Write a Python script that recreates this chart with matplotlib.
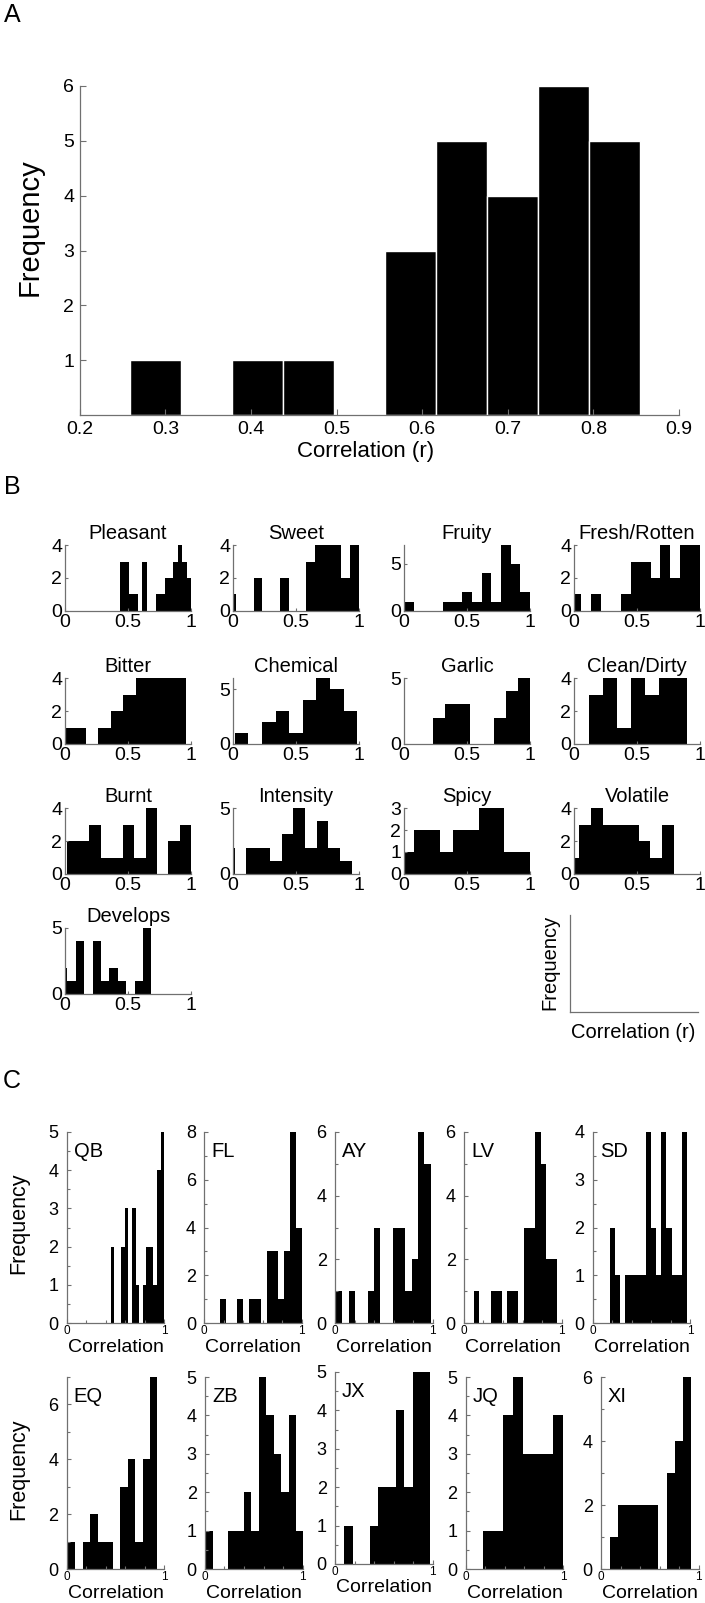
import numpy as np
import matplotlib
matplotlib.use("Agg")
import matplotlib.pyplot as plt
from matplotlib.ticker import FixedLocator, MultipleLocator

plt.rcParams['font.family'] = ['Liberation Sans', 'DejaVu Sans']

W, H = 705, 1603
AXC = '#707070'

# ---- panel A: all attributes pooled
a_lo, a_hi = 0.259, 0.854
a_counts = [1, 0, 1, 1, 0, 3, 5, 4, 6, 5]
a_xticks = [0.2, 0.3, 0.4, 0.5, 0.6, 0.7, 0.8, 0.9]
a_yticks = [1, 2, 3, 4, 5, 6]

# ---- panel B: per attribute (bin range lo..hi, counts per bin)
b_names = ['Pleasant', 'Sweet', 'Fruity', 'Fresh/Rotten',
           'Bitter', 'Chemical', 'Garlic', 'Clean/Dirty',
           'Burnt', 'Intensity', 'Spicy', 'Volatile',
           'Develops']
b_lo = [0.44, -0.045, 0.0, -0.02,
        -0.036, 0.015, 0.232, 0.117,
        0.013, -0.080, -0.02, -0.055,
        -0.049]
b_hi = [1.0, 1.0, 1.0, 1.0,
        0.964, 0.985, 1.0, 0.894,
        1.0, 0.943, 1.0, 0.796,
        0.686]
b_counts = [
    [3, 3, 1, 1, 0, 3, 0, 0, 1, 1, 2, 2, 3, 4, 3, 2],
    [1, 0, 0, 2, 0, 0, 2, 0, 0, 3, 4, 4, 4, 2, 4],
    [1, 0, 0, 0, 1, 1, 2, 1, 4, 1, 7, 5, 2],
    [1, 0, 1, 0, 0, 1, 3, 3, 2, 4, 2, 4, 4],
    [1, 1, 0, 1, 2, 3, 4, 4, 4, 4],
    [1, 0, 2, 3, 1, 4, 6, 5, 3],
    [2, 3, 3, 0, 0, 2, 4, 5],
    [3, 4, 1, 4, 3, 4, 4],
    [2, 2, 3, 1, 1, 3, 1, 4, 0, 2, 3],
    [2, 0, 2, 2, 1, 3, 5, 2, 4, 2, 1],
    [1, 2, 2, 1, 2, 2, 3, 3, 1, 1],
    [1, 3, 4, 3, 3, 3, 2, 1, 3],
    [2, 1, 4, 0, 4, 1, 2, 1, 0, 1, 5],
]
b_ymax = [4, 4, 7, 4, 4, 6, 5, 4, 4, 5, 3, 4, 5]
b_yticks = [[0, 2, 4], [0, 2, 4], [0, 5], [0, 2, 4],
            [0, 2, 4], [0, 5], [0, 5], [0, 2, 4],
            [0, 2, 4], [0, 5], [0, 1, 2, 3], [0, 2, 4],
            [0, 5]]

# ---- panel C: per subject
c_names = ['QB', 'FL', 'AY', 'LV', 'SD', 'EQ', 'ZB', 'JX', 'JQ', 'XI']
c_lo = [0.45, 0.16, 0.01, 0.101, 0.1785, -0.0635, 0.01, -0.086, 0.181, 0.092]
c_hi = [1.0, 1.0, 0.98, 0.956, 0.966, 0.931, 1.011, 0.976, 1.0, 0.921]
c_counts = [
    [2, 0, 0, 2, 3, 0, 3, 1, 0, 1, 2, 2, 1, 4, 5],
    [1, 0, 0, 1, 0, 1, 1, 0, 3, 3, 1, 3, 8, 4],
    [1, 0, 1, 0, 0, 1, 3, 0, 0, 3, 3, 1, 2, 6, 5],
    [1, 0, 0, 1, 1, 0, 1, 1, 0, 3, 3, 6, 5, 2, 2],
    [2, 1, 0, 1, 1, 1, 1, 4, 2, 1, 4, 2, 1, 1, 4],
    [1, 1, 0, 1, 2, 1, 1, 0, 3, 4, 1, 4, 7],
    [1, 0, 0, 1, 1, 2, 1, 5, 4, 3, 2, 4, 1],
    [2, 0, 1, 0, 0, 1, 2, 2, 4, 2, 5, 5],
    [1, 1, 4, 5, 3, 3, 3, 4],
    [1, 2, 2, 2, 2, 2, 0, 3, 4, 6],
]
c_ymax = [5, 8, 6, 6, 4, 7, 5, 5, 5, 6]

fig = plt.figure(figsize=(W / 100, H / 100), dpi=100)


def add_ax(l, t, r, b):
    return fig.add_axes([l / W, 1 - b / H, (r - l) / W, (b - t) / H])


def fig_text(x, y, s, **kw):
    fig.text(x / W, 1 - y / H, s, ha=kw.pop('ha', 'center'),
             va=kw.pop('va', 'center'), **kw)


def style(ax):
    for s in ['top', 'right']:
        ax.spines[s].set_visible(False)
    for s in ['left', 'bottom']:
        ax.spines[s].set_color(AXC)
        ax.spines[s].set_linewidth(0.9)
    ax.tick_params(which='both', direction='in', color=AXC, width=0.8)


def hist_bars(ax, lo, hi, counts, **kw):
    edges = np.linspace(lo, hi, len(counts) + 1)
    ax.bar(edges[:-1], counts, width=np.diff(edges), align='edge',
           color='black', **kw)


# ---------------- A
ax = add_ax(79.7, 86, 679, 415)
style(ax)
hist_bars(ax, a_lo, a_hi, a_counts, edgecolor='white', linewidth=1.0)
ax.set_xlim(0.2, 0.9)
ax.set_ylim(0, 6)
ax.set_xticks(a_xticks)
ax.set_xticklabels([str(v) for v in a_xticks])
ax.set_yticks(a_yticks)
ax.tick_params(labelsize=14, length=4, pad=4)
fig_text(366, 451, 'Correlation (r)', fontsize=16)
fig_text(30, 227, 'Frequency', fontsize=21, rotation=90)
fig_text(12, 15, 'A', fontsize=18)

# ---------------- B
fig_text(12, 487, 'B', fontsize=18)
b_left = [65, 233, 404, 574]
b_bottom = [611, 744, 874, 994]
for i, name in enumerate(b_names):
    r, c = divmod(i, 4)
    l, b = b_left[c], b_bottom[r]
    ax = add_ax(l, b - 66, l + 126, b)
    style(ax)
    hist_bars(ax, b_lo[i], b_hi[i], b_counts[i], linewidth=0)
    ax.set_xlim(0, 1)
    ax.set_ylim(0, b_ymax[i])
    ax.set_xticks([0, 0.5, 1])
    ax.set_xticklabels(['0', '0.5', '1'])
    ax.set_yticks(b_yticks[i])
    ax.tick_params(labelsize=14, length=2.5, pad=2)
    ax.set_title(name, fontsize=14.5, pad=4)

# key axes
ax = add_ax(570, 915, 698, 1012)
style(ax)
ax.set_xticks([])
ax.set_yticks([])
fig_text(550, 962, 'Frequency', fontsize=14.5, rotation=90)
fig_text(633, 1032, 'Correlation (r)', fontsize=14.5)

# ---------------- C
fig_text(12, 1081, 'C', fontsize=18)
c_left = [[66.7, 204.3, 335, 464, 592.7], [66.7, 205, 335, 465.7, 601]]
c_rows = [(1132, 1323), (1377, 1569)]
c_dy = [0, 0, 0, 0, 0, 0, 0, -5, 0, 0]
for i, name in enumerate(c_names):
    r, c = divmod(i, 5)
    l = c_left[r][c]
    t, b = c_rows[r][0] + c_dy[i], c_rows[r][1] + c_dy[i]
    ax = add_ax(l, t, l + 97.5, b)
    style(ax)
    hist_bars(ax, c_lo[i], c_hi[i], c_counts[i], linewidth=0)
    ax.set_xlim(0, 1)
    ax.set_ylim(0, c_ymax[i])
    ax.xaxis.set_major_locator(FixedLocator([0, 1]))
    ax.set_xticklabels(['0', '1'])
    ax.xaxis.set_minor_locator(MultipleLocator(0.2))
    if c_ymax[i] <= 5:
        ax.yaxis.set_major_locator(MultipleLocator(1))
        ax.yaxis.set_minor_locator(MultipleLocator(0.5))
    else:
        ax.yaxis.set_major_locator(MultipleLocator(2))
        ax.yaxis.set_minor_locator(MultipleLocator(1))
    ax.tick_params(which='major', length=3)
    ax.tick_params(which='minor', length=2)
    ax.tick_params(axis='x', labelsize=8.5, pad=1.5)
    ax.tick_params(axis='y', labelsize=13, pad=6)
    ax.annotate(name, xy=(0, 1), xycoords='axes fraction', xytext=(5, -14),
                textcoords='offset points', fontsize=14.5, ha='left', va='center')
    fig_text(l + 49, b + 24, 'Correlation', fontsize=14)
    if c == 0:
        fig_text(19, (t + b) / 2 - 4, 'Frequency', fontsize=15.5, rotation=90)

fig.savefig('out.png', dpi=100)
